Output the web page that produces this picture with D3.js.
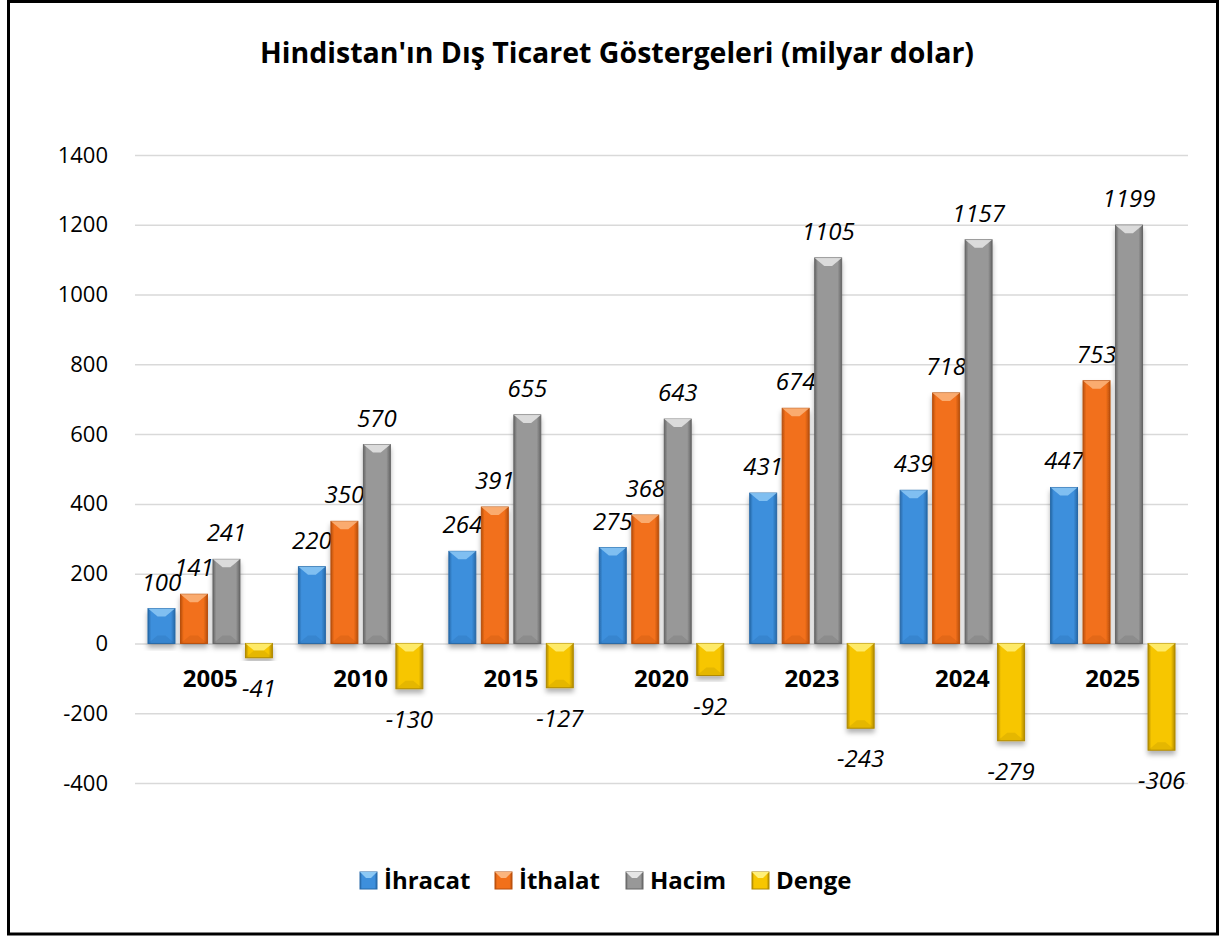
<!DOCTYPE html>
<html>
<head>
<meta charset="utf-8">
<script src="https://cdn.jsdelivr.net/npm/d3@7"></script>
<style>
  body { margin: 0; background: #fff; }
  svg { display: block; font-family: "Open Sans", sans-serif; }
</style>
</head>
<body>
<div id="chart"></div>
<script>
var years = ["2005", "2010", "2015", "2020", "2023", "2024", "2025"];
var seriesNames = ["İhracat", "İthalat", "Hacim", "Denge"];
var ihracat = [100, 220, 264, 275, 431, 439, 447];
var ithalat = [141, 350, 391, 368, 674, 718, 753];
var hacim = [241, 570, 655, 643, 1105, 1157, 1199];
var denge = [-41, -130, -127, -92, -243, -279, -306];
var yTicks = [-400, -200, 0, 200, 400, 600, 800, 1000, 1200, 1400];

var seriesValues = [ihracat, ithalat, hacim, denge];
var colors = [
  { base: "#3d8fdc", dark: "#2769a8", light: "#8cc8f4" },
  { base: "#f2701a", dark: "#b84f0c", light: "#fbb57e" },
  { base: "#989898", dark: "#666666", light: "#e6e6e6" },
  { base: "#f7c600", dark: "#b08a00", light: "#fff07a" }
];

var W = 1219, H = 936;
var svg = d3.select("#chart").append("svg")
  .attr("width", W).attr("height", H);

var defs = svg.append("defs");
var shadow = defs.append("filter").attr("id", "shadow")
  .attr("x", "-30%").attr("y", "-10%").attr("width", "160%").attr("height", "130%");
shadow.append("feDropShadow").attr("dx", 0).attr("dy", 4)
  .attr("stdDeviation", 2.5).attr("flood-color", "#000").attr("flood-opacity", 0.3);

colors.forEach(function (c, i) {
  var g = defs.append("linearGradient").attr("id", "grad" + i)
    .attr("x1", "0").attr("x2", "1").attr("y1", "0").attr("y2", "0");
  g.append("stop").attr("offset", "0%").attr("stop-color", c.dark);
  g.append("stop").attr("offset", "12%").attr("stop-color", c.base);
  g.append("stop").attr("offset", "85%").attr("stop-color", c.base);
  g.append("stop").attr("offset", "100%").attr("stop-color", c.dark);
});

// border
svg.append("rect")
  .attr("x", 8.5).attr("y", 1.5).attr("width", 1209).attr("height", 932.5)
  .attr("fill", "none").attr("stroke", "#000").attr("stroke-width", 3);

// title
svg.append("text")
  .attr("x", 617).attr("y", 63)
  .attr("text-anchor", "middle")
  .attr("font-weight", "bold").attr("font-size", 28.5)
  .text("Hindistan'ın Dış Ticaret Göstergeleri (milyar dolar)");

var left = 135, right = 1188;
var y = d3.scaleLinear().domain([-400, 1400]).range([783, 155]);
var x0 = d3.scaleBand().domain(years).range([left, right]);
var x1 = d3.scaleBand().domain(seriesNames).range([0, x0.bandwidth()])
  .paddingInner(0.17).paddingOuter(0.4);

// gridlines
svg.append("g")
  .attr("transform", "translate(" + left + ",0)")
  .call(d3.axisLeft(y).tickValues(yTicks).tickSize(-(right - left)).tickFormat(""))
  .call(function (g) {
    g.select(".domain").remove();
    g.selectAll(".tick line").attr("stroke", "#d9d9d9").attr("stroke-width", 1.5);
  });

// y tick labels
svg.append("g")
  .attr("transform", "translate(108,0)")
  .call(d3.axisLeft(y).tickValues(yTicks).tickSize(0).tickPadding(0)
    .tickFormat(function (d) { return String(d); }))
  .call(function (g) {
    g.select(".domain").remove();
    g.selectAll(".tick text").attr("font-size", 22).attr("fill", "#000")
      .attr("font-family", "Open Sans, sans-serif");
  });

var bw = x1.bandwidth();

var groups = svg.append("g").selectAll("g")
  .data(years).enter().append("g")
  .attr("transform", function (d) { return "translate(" + x0(d) + ",0)"; });

var cells = groups.selectAll("g.bar")
  .data(function (d, i) {
    return seriesNames.map(function (s, k) {
      return { year: d, s: s, k: k, v: seriesValues[k][i] };
    });
  })
  .enter().append("g").attr("class", "bar");

cells.each(function (d) {
  var g = d3.select(this);
  var bx = x1(d.s);
  var top = y(Math.max(0, d.v)), bot = y(Math.min(0, d.v));
  var h = bot - top;
  var c = colors[d.k];
  g.append("rect")
    .attr("x", bx).attr("y", top).attr("width", bw).attr("height", h)
    .attr("fill", "url(#grad" + d.k + ")")
    .attr("stroke", c.dark).attr("stroke-width", 1)
    .attr("filter", "url(#shadow)");
  var b = Math.min(8, h / 2);
  // top bevel highlight
  g.append("path")
    .attr("d", "M" + bx + "," + top + "L" + (bx + bw) + "," + top +
      "L" + (bx + bw - b * 1.2) + "," + (top + b) + "L" + (bx + b * 1.2) + "," + (top + b) + "Z")
    .attr("fill", c.light).attr("opacity", 0.85);
  // bottom bevel shade
  g.append("path")
    .attr("d", "M" + bx + "," + bot + "L" + (bx + bw) + "," + bot +
      "L" + (bx + bw - b * 1.2) + "," + (bot - b) + "L" + (bx + b * 1.2) + "," + (bot - b) + "Z")
    .attr("fill", c.dark).attr("opacity", 0.25);
  // value label
  g.append("text")
    .attr("x", bx + bw / 2)
    .attr("y", d.v >= 0 ? top - 18 : bot + 39)
    .attr("text-anchor", "middle")
    .attr("font-style", "italic").attr("font-size", 24)
    .text(d.v);
});

// category labels
groups.append("text")
  .attr("x", x0.bandwidth() / 2)
  .attr("y", 687)
  .attr("text-anchor", "middle")
  .attr("font-weight", "bold").attr("font-size", 24)
  .text(function (d) { return d; });

// legend
var legendX = [360, 495, 626, 752];
var legend = svg.append("g").selectAll("g")
  .data(seriesNames).enter().append("g")
  .attr("transform", function (d, i) { return "translate(" + legendX[i] + ",872)"; });
legend.append("rect")
  .attr("width", 17).attr("height", 17)
  .attr("fill", function (d, i) { return "url(#grad" + i + ")"; })
  .attr("stroke", function (d, i) { return colors[i].dark; });
legend.append("path")
  .attr("d", "M0,0L17,0L11,6L6,6Z")
  .attr("fill", function (d, i) { return colors[i].light; });
legend.append("text")
  .attr("x", 24).attr("y", 17)
  .attr("font-weight", "bold").attr("font-size", 24)
  .text(function (d) { return d; });
</script>
</body>
</html>
